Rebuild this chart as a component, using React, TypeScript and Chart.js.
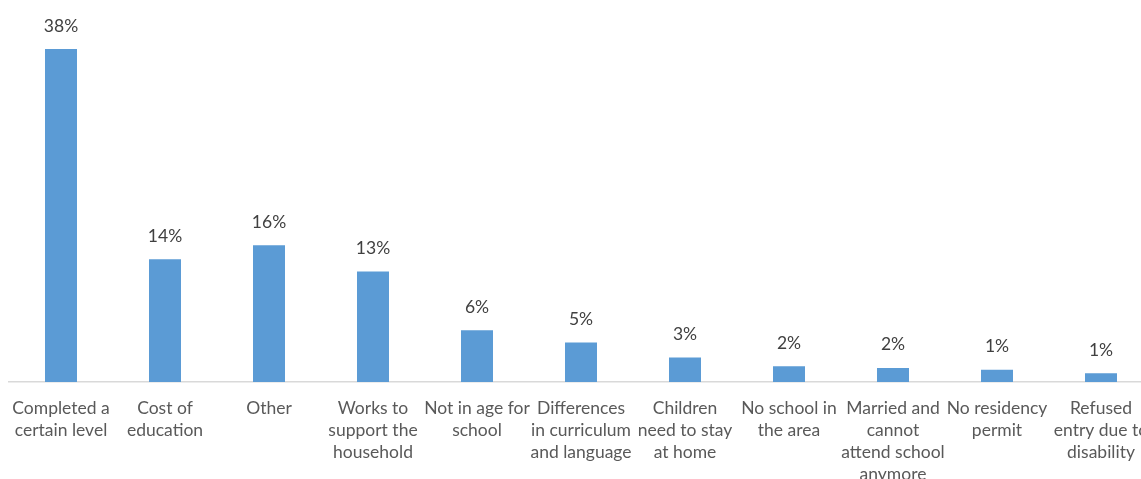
import React, { useEffect, useRef } from "react";
import { Chart, registerables } from "chart.js";

Chart.register(...registerables);

const categories: string[][] = [
  ["Completed a", "certain level"],
  ["Cost of", "education"],
  ["Other"],
  ["Works to", "support the", "household"],
  ["Not in age for", "school"],
  ["Differences", "in curriculum", "and language"],
  ["Children", "need to stay", "at home"],
  ["No school in", "the area"],
  ["Married and", "cannot", "attend school", "anymore"],
  ["No residency", "permit"],
  ["Refused", "entry due to", "disability"],
];

const values: number[] = [38, 14.0, 15.6, 12.6, 5.9, 4.5, 2.8, 1.8, 1.6, 1.4, 1.0];

const valueLabels: string[] = ["38%", "14%", "16%", "13%", "6%", "5%", "3%", "2%", "2%", "1%", "1%"];

const FONT = "Lato, 'Open Sans', sans-serif";
const FSIZE = 17.5;

const dataLabelPlugin = {
  id: "dataLabels",
  afterDatasetsDraw(chart: any) {
    const ctx = chart.ctx;
    const meta = chart.getDatasetMeta(0);
    ctx.save();
    ctx.font = `${FSIZE}px ${FONT}`;
    ctx.fillStyle = "#404040";
    ctx.textAlign = "center";
    ctx.textBaseline = "alphabetic";
    meta.data.forEach((bar: any, i: number) => {
      ctx.fillText(valueLabels[i], bar.x, bar.y - 17.5);
    });
    ctx.restore();
  },
};

export default function App() {
  const ref = useRef<HTMLCanvasElement | null>(null);

  useEffect(() => {
    if (!ref.current) return;
    const chart = new Chart(ref.current, {
      type: "bar",
      data: {
        labels: categories,
        datasets: [
          {
            data: values,
            backgroundColor: "#5b9bd5",
            borderWidth: 0,
            barPercentage: 0.3077,
            categoryPercentage: 1,
          },
        ],
      },
      options: {
        responsive: false,
        animation: false,
        devicePixelRatio: 1,
        layout: { padding: { top: 31.6, left: 9, right: 7, bottom: 17 } },
        plugins: {
          legend: { display: false },
          tooltip: { enabled: false },
        },
        scales: {
          x: {
            grid: { display: false, drawTicks: false },
            border: { display: true, color: "#d9d9d9", width: 1.5 },
            afterFit: (scale: any) => {
              scale.paddingLeft = 0;
              scale.paddingRight = 0;
            },
            ticks: {
              autoSkip: false,
              maxRotation: 0,
              minRotation: 0,
              padding: 15,
              color: "#595959",
              font: { family: FONT, size: FSIZE, lineHeight: 22 / FSIZE },
            },
          },
          y: {
            display: false,
            min: 0,
            max: 40,
          },
        },
      },
      plugins: [dataLabelPlugin],
    });
    return () => chart.destroy();
  }, []);

  return (
    <div
      style={{
        position: "fixed",
        left: 0,
        top: 0,
        width: 1141,
        height: 479,
        overflow: "hidden",
        background: "#ffffff",
      }}
    >
      <canvas ref={ref} width={1160} height={517} style={{ display: "block" }} />
    </div>
  );
}
